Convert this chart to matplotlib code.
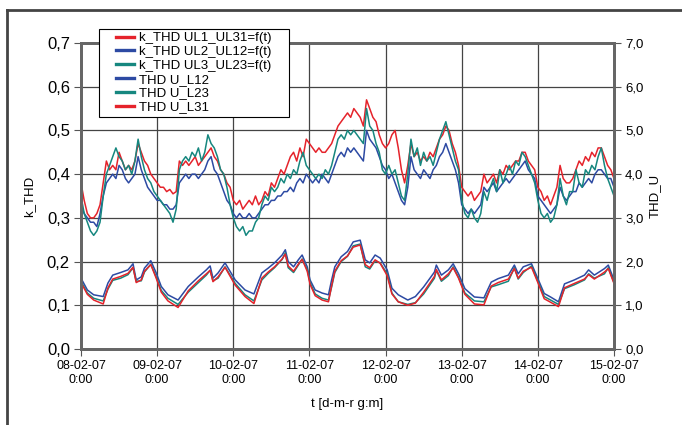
import matplotlib
matplotlib.use('Agg')
import matplotlib.pyplot as plt
from matplotlib.patches import Rectangle
from matplotlib.lines import Line2D
from matplotlib.ticker import FuncFormatter

plt.rcParams['font.family'] = ['Liberation Sans', 'DejaVu Sans']

# k_THD - wartosci co godzine od 08-02-07 0:00 (lewa os)
hours_k = list(range(169))
k_ul31 = [0.38, 0.34, 0.31, 0.30, 0.30, 0.31, 0.33, 0.38, 0.43, 0.41, 0.42, 0.41, 0.45, 0.43, 0.41, 0.42, 0.41, 0.43, 0.47, 0.45, 0.43, 0.42, 0.40, 0.39,
          0.38, 0.37, 0.37, 0.36, 0.365, 0.355, 0.36, 0.43, 0.42, 0.43, 0.42, 0.43, 0.44, 0.42, 0.43, 0.44, 0.45, 0.46, 0.44, 0.43, 0.41, 0.40, 0.38, 0.37,
          0.34, 0.33, 0.34, 0.32, 0.33, 0.34, 0.33, 0.35, 0.33, 0.34, 0.36, 0.35, 0.38, 0.37, 0.39, 0.41, 0.40, 0.42, 0.44, 0.45, 0.43, 0.46, 0.44, 0.48,
          0.47, 0.46, 0.45, 0.46, 0.45, 0.45, 0.46, 0.47, 0.49, 0.51, 0.52, 0.53, 0.54, 0.53, 0.55, 0.54, 0.53, 0.51, 0.57, 0.55, 0.53, 0.52, 0.49, 0.47,
          0.46, 0.47, 0.49, 0.50, 0.46, 0.41, 0.38, 0.42, 0.47, 0.44, 0.45, 0.43, 0.44, 0.43, 0.45, 0.44, 0.46, 0.48, 0.49, 0.51, 0.50, 0.47, 0.45, 0.42,
          0.37, 0.36, 0.35, 0.36, 0.34, 0.35, 0.36, 0.40, 0.38, 0.39, 0.40, 0.38, 0.41, 0.40, 0.42, 0.41, 0.42, 0.43, 0.43, 0.45, 0.45, 0.43, 0.42, 0.41,
          0.37, 0.36, 0.34, 0.35, 0.33, 0.35, 0.37, 0.42, 0.39, 0.38, 0.38, 0.39, 0.41, 0.43, 0.42, 0.44, 0.43, 0.45, 0.44, 0.46, 0.46, 0.44, 0.42, 0.41,
          0.39]
k_ul12 = [0.33, 0.31, 0.30, 0.29, 0.29, 0.28, 0.31, 0.35, 0.38, 0.39, 0.40, 0.39, 0.42, 0.41, 0.39, 0.38, 0.39, 0.40, 0.44, 0.41, 0.39, 0.37, 0.36, 0.35,
          0.34, 0.34, 0.33, 0.33, 0.32, 0.32, 0.33, 0.38, 0.39, 0.40, 0.39, 0.40, 0.40, 0.39, 0.40, 0.41, 0.43, 0.44, 0.41, 0.40, 0.38, 0.36, 0.34, 0.33,
          0.31, 0.30, 0.31, 0.30, 0.30, 0.31, 0.30, 0.30, 0.31, 0.32, 0.33, 0.33, 0.34, 0.34, 0.35, 0.35, 0.36, 0.36, 0.37, 0.36, 0.38, 0.39, 0.38, 0.40,
          0.39, 0.38, 0.39, 0.38, 0.40, 0.39, 0.38, 0.40, 0.42, 0.44, 0.45, 0.44, 0.46, 0.45, 0.46, 0.45, 0.44, 0.43, 0.50, 0.48, 0.47, 0.46, 0.44, 0.42,
          0.41, 0.39, 0.40, 0.38, 0.36, 0.34, 0.33, 0.37, 0.44, 0.41, 0.40, 0.39, 0.41, 0.40, 0.39, 0.41, 0.42, 0.44, 0.45, 0.47, 0.45, 0.43, 0.41, 0.38,
          0.33, 0.32, 0.31, 0.32, 0.31, 0.32, 0.33, 0.37, 0.36, 0.37, 0.38, 0.36, 0.37, 0.38, 0.39, 0.38, 0.39, 0.40, 0.41, 0.42, 0.43, 0.41, 0.40, 0.39,
          0.35, 0.34, 0.33, 0.32, 0.31, 0.32, 0.33, 0.37, 0.35, 0.34, 0.35, 0.36, 0.36, 0.38, 0.37, 0.38, 0.39, 0.38, 0.40, 0.41, 0.41, 0.40, 0.39, 0.39,
          0.37]
k_ul23 = [0.35, 0.31, 0.29, 0.27, 0.26, 0.27, 0.29, 0.35, 0.40, 0.42, 0.44, 0.46, 0.44, 0.43, 0.41, 0.42, 0.40, 0.43, 0.48, 0.44, 0.41, 0.39, 0.38, 0.36,
          0.35, 0.34, 0.33, 0.32, 0.31, 0.29, 0.32, 0.41, 0.43, 0.44, 0.43, 0.45, 0.44, 0.46, 0.43, 0.45, 0.49, 0.47, 0.46, 0.44, 0.41, 0.40, 0.37, 0.33,
          0.30, 0.28, 0.27, 0.28, 0.26, 0.27, 0.27, 0.29, 0.30, 0.33, 0.35, 0.34, 0.37, 0.36, 0.37, 0.39, 0.38, 0.40, 0.39, 0.41, 0.40, 0.43, 0.45, 0.42,
          0.41, 0.40, 0.39, 0.40, 0.39, 0.41, 0.40, 0.42, 0.45, 0.48, 0.49, 0.48, 0.50, 0.49, 0.50, 0.49, 0.48, 0.47, 0.55, 0.51, 0.50, 0.47, 0.45, 0.41,
          0.40, 0.42, 0.40, 0.41, 0.38, 0.35, 0.34, 0.40, 0.48, 0.44, 0.46, 0.42, 0.45, 0.43, 0.44, 0.42, 0.45, 0.48, 0.50, 0.52, 0.49, 0.46, 0.43, 0.41,
          0.34, 0.31, 0.30, 0.32, 0.30, 0.29, 0.31, 0.36, 0.34, 0.37, 0.39, 0.36, 0.41, 0.38, 0.40, 0.42, 0.40, 0.43, 0.42, 0.45, 0.44, 0.42, 0.40, 0.38,
          0.34, 0.31, 0.30, 0.31, 0.29, 0.30, 0.33, 0.39, 0.35, 0.33, 0.36, 0.36, 0.41, 0.38, 0.37, 0.41, 0.40, 0.42, 0.41, 0.44, 0.46, 0.42, 0.39, 0.37,
          0.35]

# THD U [%] (prawa os)
hours_u = [0, 2, 4, 7, 8.5, 10, 12.5, 14.8, 16.4, 17.4, 19, 20, 22, 23.7, 25.3, 27.4, 30.6, 33.8, 37, 39.5, 40.7, 41.6, 43.2, 45.4,
           48.6, 51.7, 54.5, 57, 59, 61, 63.4, 64.4, 65.3, 67, 68.5, 69.7, 71.3, 72.2, 73.8, 76, 78, 79, 80, 82, 84, 85.8, 88,
           89.6, 91, 92.7, 94.3, 96.5, 98, 100, 103, 105.4, 108, 111.4, 112, 113.6, 115.8, 117.3, 119, 121, 124, 127, 129.3,
           131.5, 134.7, 136.6, 137.8, 139.4, 142, 144, 146, 148, 150.5, 152.4, 155.5, 158.7, 160, 161.8, 165, 166.2, 168]
thd_l12 = [1.62, 1.35, 1.24, 1.20, 1.51, 1.69, 1.75, 1.81, 1.95, 1.58, 1.65, 1.85, 2.02, 1.74, 1.43, 1.24, 1.12, 1.43, 1.65, 1.81, 1.90, 1.62, 1.74, 1.97,
           1.58, 1.35, 1.26, 1.74, 1.85, 1.97, 2.15, 2.27, 2.00, 1.88, 2.04, 2.15, 1.88, 1.58, 1.35, 1.28, 1.24, 1.58, 1.88, 2.11, 2.23, 2.45, 2.49,
           2.04, 1.97, 2.15, 2.08, 1.81, 1.39, 1.24, 1.12, 1.20, 1.42, 1.76, 1.92, 1.69, 1.81, 1.95, 1.72, 1.38, 1.19, 1.17, 1.53,
           1.61, 1.69, 1.92, 1.72, 1.88, 1.95, 1.61, 1.27, 1.19, 1.08, 1.49, 1.58, 1.69, 1.81, 1.69, 1.84, 1.92, 1.58]
thd_l23 = [1.55, 1.28, 1.16, 1.10, 1.37, 1.57, 1.62, 1.70, 1.86, 1.55, 1.56, 1.76, 1.94, 1.65, 1.34, 1.16, 1.02, 1.30, 1.52, 1.69, 1.80, 1.56, 1.62, 1.88,
           1.50, 1.24, 1.10, 1.58, 1.73, 1.86, 2.05, 2.20, 1.86, 1.75, 1.92, 2.06, 1.82, 1.52, 1.26, 1.16, 1.12, 1.42, 1.75, 2.00, 2.12, 2.36, 2.40,
           1.88, 1.83, 2.02, 1.97, 1.72, 1.28, 1.08, 1.02, 1.06, 1.26, 1.62, 1.80, 1.55, 1.68, 1.88, 1.64, 1.28, 1.10, 1.08, 1.42,
           1.47, 1.55, 1.86, 1.60, 1.75, 1.90, 1.55, 1.20, 1.12, 1.02, 1.38, 1.47, 1.58, 1.72, 1.62, 1.72, 1.86, 1.52]
thd_l31 = [1.52, 1.25, 1.12, 1.03, 1.40, 1.60, 1.66, 1.73, 1.87, 1.52, 1.58, 1.78, 1.93, 1.62, 1.30, 1.10, 0.95, 1.33, 1.56, 1.72, 1.80, 1.54, 1.65, 1.87,
           1.46, 1.20, 1.04, 1.62, 1.76, 1.88, 2.06, 2.17, 1.90, 1.78, 1.94, 2.05, 1.78, 1.48, 1.22, 1.12, 1.08, 1.45, 1.78, 2.02, 2.13, 2.33, 2.38,
           1.93, 1.86, 2.04, 1.96, 1.68, 1.26, 1.08, 1.00, 1.05, 1.30, 1.66, 1.82, 1.58, 1.72, 1.86, 1.62, 1.25, 1.03, 1.01, 1.44,
           1.52, 1.60, 1.84, 1.62, 1.78, 1.87, 1.52, 1.15, 1.07, 0.97, 1.40, 1.50, 1.60, 1.70, 1.60, 1.76, 1.84, 1.50]

day_ticks = [0, 24, 48, 72, 96, 120, 144, 168]
day_labels = ['08-02-07\n0:00', '09-02-07\n0:00', '10-02-07\n0:00', '11-02-07\n0:00',
              '12-02-07\n0:00', '13-02-07\n0:00', '14-02-07\n0:00', '15-02-07\n0:00']

red = '#e5232b'
blue = '#2d4aa3'
teal = '#16877f'

fig = plt.figure(figsize=(6.82, 4.25), dpi=100)
ax = fig.add_axes([81 / 682, 1 - 349 / 425, 533 / 682, 306 / 425])
ax2 = ax.twinx()

ax.plot(hours_k, k_ul31, color=red, lw=1.1, label='k_THD UL1_UL31=f(t)')
ax.plot(hours_k, k_ul12, color=blue, lw=1.1, label='k_THD UL2_UL12=f(t)')
ax.plot(hours_k, k_ul23, color=teal, lw=1.1, label='k_THD UL3_UL23=f(t)')
ax2.plot(hours_u, thd_l12, color=blue, lw=1.1, label='THD U_L12')
ax2.plot(hours_u, thd_l23, color=teal, lw=1.1, label='THD U_L23')
ax2.plot(hours_u, thd_l31, color=red, lw=1.1, label='THD U_L31')

ax.set_xlim(0, 168)
ax.set_ylim(0, 0.7)
ax2.set_ylim(0, 7)
ax.set_xticks(day_ticks)
ax.set_xticklabels(day_labels, fontsize=9)
ax.set_yticks([i / 10 for i in range(8)])
ax2.set_yticks(range(8))
comma = FuncFormatter(lambda v, p: f'{v:.1f}'.replace('.', ','))
ax.yaxis.set_major_formatter(comma)
ax2.yaxis.set_major_formatter(comma)
ax.tick_params(axis='y', labelsize=12, direction='out', length=5, color='#555555', pad=3)
ax.tick_params(axis='x', direction='out', length=5, color='#555555', pad=3)
ax2.tick_params(axis='y', labelsize=9.5, direction='out', length=5, color='#555555', pad=3)
ax.grid(True, color='#444444', lw=0.9)
ax.set_axisbelow(True)
for a in (ax, ax2):
    for s in a.spines.values():
        s.set_color('#666666')
        s.set_linewidth(2)

ax.set_ylabel('k_THD', fontsize=9.5, labelpad=8)
ax2.set_ylabel('THD_U', fontsize=9.5, labelpad=4)
ax.set_xlabel('t [d-m-r g:m]', fontsize=9.5, labelpad=9)

# ramka legendy i legenda
fig.add_artist(Rectangle((99 / 682, 1 - 117 / 425), 190 / 682, 88 / 425, transform=fig.transFigure,
                         facecolor='white', edgecolor='black', lw=0.8, zorder=4))
h1, l1 = ax.get_legend_handles_labels()
h2, l2 = ax2.get_legend_handles_labels()
leg = fig.legend(h1 + h2, l1 + l2, loc='upper left', bbox_to_anchor=(116 / 682, 1 - 32 / 425),
                 frameon=False, fontsize=9.5, handlelength=1.4, handletextpad=0.35,
                 labelspacing=0.12, borderpad=0, borderaxespad=0)
for h in leg.legend_handles:
    h.set_linewidth(2.4)

# ramka wykresu
fig.add_artist(Line2D([7 / 682, 7 / 682], [0, 1 - 10 / 425], transform=fig.transFigure, color='#444444', lw=2))
fig.add_artist(Line2D([7 / 682, 1], [1 - 10 / 425, 1 - 10 / 425], transform=fig.transFigure, color='#444444', lw=2))

fig.savefig('out.png', dpi=100)
